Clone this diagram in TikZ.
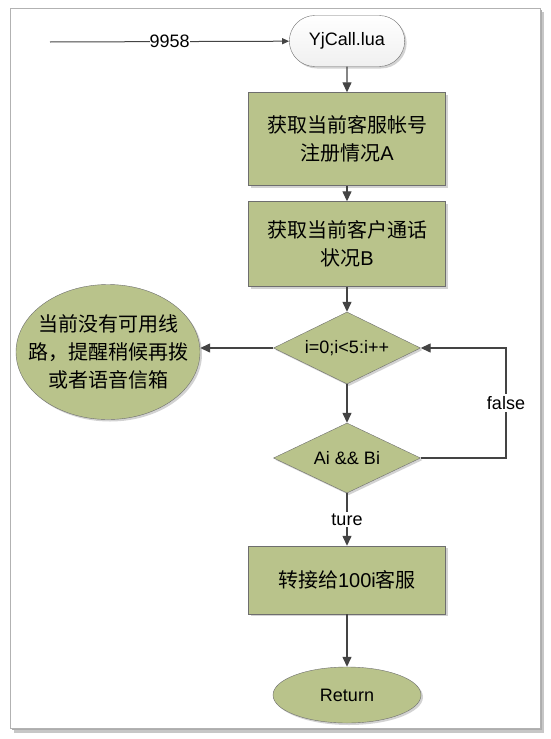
\documentclass[tikz,border=0pt]{standalone}
\usepackage{fontspec}
\setmainfont{Liberation Sans}
\newfontfamily\cjk{Noto Sans CJK SC}
\usepackage{tikz}
\usetikzlibrary{arrows.meta,positioning,shapes.geometric,shapes.misc,shadows}
\definecolor{boxgreen}{RGB}{185,195,139}
\definecolor{boxline}{RGB}{110,110,110}
\definecolor{flowgray}{RGB}{68,68,68}

\begin{document}
\begin{tikzpicture}[x=1pt, y=-1pt,
        every node/.style={font=\fontsize{18}{22}\selectfont},
        boxshadow/.style={drop shadow={opacity=0.35, shadow xshift=2pt, shadow yshift=-2pt}},
        flowbox/.style={rectangle, draw=boxline, fill=boxgreen, minimum width=197pt,
            align=center, font=\fontsize{20}{28}\selectfont, boxshadow},
        decision/.style={diamond, aspect=2, draw=boxline, fill=boxgreen, inner sep=0pt,
            minimum width=147pt, minimum height=72pt, boxshadow},
        terminal/.style={rounded rectangle, draw=boxline, top color=white, bottom color=gray!12,
            minimum width=122pt, minimum height=51pt, boxshadow},
        flow/.style={draw=flowgray, line width=1.3pt, -{Triangle[length=10pt,width=9pt]}}]
        % frame
        \useasboundingbox (0,0) rectangle (550,739);
        \fill[black!22] (14,12) rectangle (544,733);
        \fill[black!32] (12,10) rectangle (542,730);
        \draw[gray!60, fill=white] (10,8) rectangle (540,728);

        \coordinate (src) at (50,42);
        \node[terminal] (start) at (347,41) {YjCall.lua};
        \node[flowbox, minimum height=93pt] (regA) at (347,139) {{\cjk 获取当前客服帐号}\\{\cjk 注册情况}A};
        \node[flowbox, minimum height=85pt] (callB) at (347,244) {{\cjk 获取当前客户通话}\\{\cjk 状况}B};
        \node[decision] (loop) at (347,348) {i=0;i<5:i++};
        \node[decision, minimum height=70pt] (check) at (347,458) {Ai \&\& Bi};
        \node[ellipse, draw=boxline, fill=boxgreen, boxshadow, inner xsep=-20pt, inner ysep=0pt,
            minimum width=184pt, minimum height=135pt, align=center,
            font=\cjk\fontsize{20}{28}\selectfont] (busy) at (108,352)
            {当前没有可用线\\路，提醒稍候再拨\\或者语音信箱};
        \node[flowbox, minimum height=68pt] (transfer) at (347,580) {{\cjk 转接给}100i{\cjk 客服}};
        \node[ellipse, draw=boxline, fill=boxgreen, boxshadow, inner sep=0pt,
            minimum width=148pt, minimum height=56pt] (ret) at (347,695) {Return};
        \coordinate (loopback) at (506,458);

        \draw[draw=flowgray, line width=1pt, -{Triangle[length=7pt,width=6pt]}]
            (src) -- node[fill=white, inner sep=0pt] {9958} (start);
        \draw[flow] (start) -- (regA);
        \draw[flow] (regA) -- (callB);
        \draw[flow] (callB) -- (loop);
        \draw[flow] (loop.west) -- (loop.west -| busy.east);
        \draw[flow] (loop) -- (check);
        \draw[flow] (check) -- node[fill=white, inner sep=2pt] {ture} (transfer);
        \draw[flow] (transfer) -- (ret);
        \draw[flow] (check.east) -- (loopback) -- node[fill=white, inner sep=2pt] {false} (loopback |- loop.east) -- (loop.east);
    \end{tikzpicture}
\end{document}
